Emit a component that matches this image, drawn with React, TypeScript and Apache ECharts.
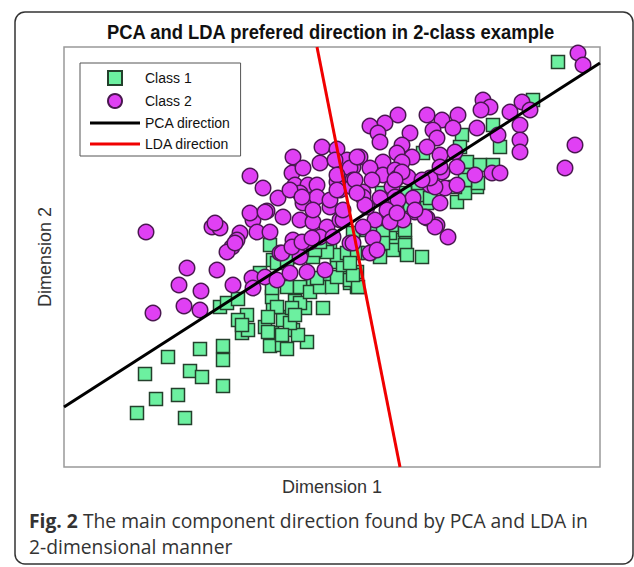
import React, { useEffect, useRef } from "react";
import * as echarts from "echarts";

const titleText = "PCA and LDA prefered direction in 2-class example";
const xName = "Dimension 1";
const yName = "Dimension 2";
const captionBold = "Fig. 2";
const captionLine1 = " The main component direction found by PCA and LDA in";
const captionLine2 = "2-dimensional manner";

const class1: number[][] = [
  [73, 54], [92, 68], [81, 93], [104, 110], [114, 72], [121, 49], [126, 96], [138, 90], [136, 118], [159, 121],
  [159, 107], [159, 81], [156, 160], [163, 164], [174, 168], [178, 134], [183, 152], [174, 147], [184, 137], [201, 140],
  [208, 134], [206, 121], [218, 122], [223, 118], [229, 137], [226, 150], [219, 147], [209, 160], [231, 166], [241, 159],
  [259, 159], [243, 125], [234, 132], [208, 170], [196, 194], [209, 207], [206, 222], [223, 180], [229, 210], [249, 210],
  [249, 184], [263, 184], [273, 205], [283, 199], [286, 184], [249, 220], [266, 220], [236, 164],
  [213, 160], [228, 159], [204, 150], [226, 144], [231, 152], [178, 142], [204, 135], [218, 132], [208, 179], [236, 180],
  [246, 175], [256, 180], [268, 180], [253, 189], [273, 190], [279, 202], [273, 212], [283, 214], [293, 214], [293, 195],
  [293, 180], [286, 187], [263, 215], [251, 217], [256, 225], [213, 204], [223, 207],
  [358, 210], [341, 224], [329, 227], [329, 217], [316, 210], [304, 214], [294, 180], [289, 192], [286, 204], [289, 234],
  [303, 237], [313, 239], [326, 234], [346, 262], [363, 264], [393, 265], [356, 272], [343, 272], [318, 274],
  [494, 405], [469, 367], [429, 342], [436, 320], [398, 332], [403, 305], [416, 302], [404, 292], [413, 280], [401, 274],
  [391, 280], [354, 284], [366, 269], [341, 274], [328, 242], [341, 222], [341, 237], [319, 235], [319, 224], [343, 212],
  [429, 302], [414, 284], [401, 287], [396, 320], [359, 314],
];

const class2: number[][] = [
  [82, 235], [89, 154], [123, 199], [115, 182], [137, 176], [120, 161], [136, 157], [153, 197], [169, 182], [148, 240],
  [156, 239], [186, 291], [199, 279], [214, 269], [229, 310], [258, 320], [273, 318], [256, 304], [228, 294], [239, 299],
  [231, 282], [244, 282], [253, 282], [236, 274], [239, 264], [253, 270], [266, 260], [276, 277], [283, 289], [289, 300],
  [283, 307], [203, 256], [219, 250], [236, 247], [249, 245], [263, 240], [276, 247], [189, 247], [186, 254], [193, 235],
  [206, 235], [176, 234], [173, 227], [168, 220], [163, 215], [229, 227], [246, 225], [256, 230], [269, 230], [216, 214],
  [236, 210],
  [419, 367], [426, 360], [417, 357], [394, 352], [363, 352], [378, 347], [389, 339], [413, 339], [334, 352], [321, 344],
  [306, 341], [314, 334], [316, 325], [346, 334], [369, 337], [373, 329], [363, 320], [338, 322], [333, 314], [348, 310],
  [376, 312], [391, 315], [296, 310], [286, 299], [319, 305], [338, 305], [306, 299], [319, 292], [331, 297], [308, 287],
  [333, 289], [344, 290], [393, 300], [378, 295], [366, 282], [381, 279], [393, 282], [411, 292], [428, 294], [434, 332],
  [299, 275], [328, 280], [289, 287],
  [514, 414], [519, 402], [446, 355], [458, 365], [466, 357], [456, 342], [456, 327], [456, 315], [511, 322], [501, 299],
  [436, 294], [384, 230], [373, 242], [371, 280], [366, 289], [376, 300], [358, 287], [338, 295], [331, 287], [331, 270],
  [349, 269], [351, 255], [363, 249], [339, 247], [334, 267], [316, 269], [323, 257], [311, 247], [303, 260], [299, 270],
  [288, 280], [273, 285], [266, 267], [279, 247], [299, 240], [309, 229], [306, 214], [286, 224],
  [371, 240], [361, 250], [351, 257], [326, 245], [333, 254], [313, 217], [289, 224], [301, 262], [376, 264],
  [188, 189], [201, 190], [213, 187], [226, 194], [243, 195], [261, 197], [218, 214], [228, 220], [238, 225], [248, 229],
  [171, 224], [189, 179],
  [226, 277], [238, 270], [249, 257], [271, 307], [273, 292], [273, 277], [279, 257], [293, 310], [291, 287], [293, 274],
  [201, 255], [151, 244],
];

const pcaLine: number[][] = [[0, 60], [536, 404]];
const ldaLine: number[][] = [[253, 420], [336, 0]];

const xRange = [0, 536];
const yRange = [0, 420];

export default function App() {
  const ref = useRef<HTMLDivElement>(null);
  useEffect(() => {
    document.body.style.margin = "0";
    const chart = echarts.init(ref.current!, null, { renderer: "svg" });
    const sans = "'Liberation Sans', Arial, sans-serif";
    const titleFont = "bold 20px 'Liberation Sans'";
    let titleScale = 0.85;
    const cv = document.createElement("canvas").getContext("2d");
    if (cv) {
      cv.font = titleFont;
      const w = cv.measureText(titleText).width;
      if (w > 0) titleScale = 449 / w;
    }
    const sq = "path://M0,0L14,0L14,14L0,14Z";
    const bar = "path://M0,0L50,0L50,3L0,3Z";
    chart.setOption({
      animation: false,
      backgroundColor: "#fff",
      grid: {
        left: 64,
        top: 47,
        right: 34,
        bottom: 100,
        show: true,
        borderColor: "#999",
        borderWidth: 1.5,
        backgroundColor: "#fff",
      },
      legend: {
        orient: "vertical",
        left: 80,
        top: 63,
        padding: [7, 10, 5, 10],
        itemGap: 7,
        itemWidth: 50,
        itemHeight: 14,
        borderColor: "#555",
        borderWidth: 1,
        backgroundColor: "#fff",
        textStyle: { fontFamily: sans, fontSize: 14, lineHeight: 14, color: "#111" },
        data: [
          { name: "Class 1", icon: sq },
          { name: "Class 2", icon: "circle" },
          { name: "PCA direction", icon: bar, itemStyle: { color: "#000", borderWidth: 0 } },
          { name: "LDA direction", icon: bar, itemStyle: { color: "#f00000", borderWidth: 0 } },
        ],
      },
      xAxis: {
        type: "value",
        min: xRange[0],
        max: xRange[1],
        axisLine: { show: false },
        axisTick: { show: false },
        axisLabel: { show: false },
        splitLine: { show: false },
        name: xName,
        nameLocation: "middle",
        nameGap: 11,
        nameTextStyle: { fontFamily: sans, fontSize: 18, color: "#333", verticalAlign: "top" },
      },
      yAxis: {
        type: "value",
        min: yRange[0],
        max: yRange[1],
        axisLine: { show: false },
        axisTick: { show: false },
        axisLabel: { show: false },
        splitLine: { show: false },
        name: yName,
        nameLocation: "middle",
        nameGap: 10,
        nameTextStyle: { fontFamily: sans, fontSize: 18, color: "#333" },
      },
      series: [
        {
          name: "Class 1",
          type: "scatter",
          symbol: "rect",
          symbolSize: 13,
          data: class1,
          itemStyle: { color: "#6cf0a0", borderColor: "#24402c", borderWidth: 1.5, opacity: 1 },
        },
        {
          name: "Class 2",
          type: "scatter",
          symbol: "circle",
          symbolSize: 15.5,
          data: class2,
          itemStyle: { color: "#e040f4", borderColor: "#4a1850", borderWidth: 1.5, opacity: 1 },
        },
        {
          name: "PCA direction",
          type: "line",
          data: pcaLine,
          symbol: "none",
          lineStyle: { color: "#000", width: 3 },
          itemStyle: { color: "#000" },
        },
        {
          name: "LDA direction",
          type: "line",
          data: ldaLine,
          symbol: "none",
          lineStyle: { color: "#f00000", width: 3 },
          itemStyle: { color: "#f00000" },
        },
      ],
      graphic: [
        {
          type: "rect",
          shape: { x: 15, y: 12, width: 618, height: 552, r: 10 },
          style: { fill: "none", stroke: "#333", lineWidth: 1.5 },
          z: -1,
          silent: true,
        },
        {
          type: "text",
          x: 107,
          y: 22,
          scaleX: titleScale,
          style: {
            text: titleText,
            font: titleFont,
            fill: "#111",
          },
        },
        {
          type: "text",
          x: 29,
          y: 511,
          style: {
            text: "{b|" + captionBold + "}" + captionLine1,
            fontFamily: "'Open Sans', sans-serif",
            fontSize: 19.3,
            fill: "#333",
            rich: {
              b: { fontFamily: "'Open Sans', sans-serif", fontSize: 19.3, fontWeight: "bold", fill: "#333" },
            },
          },
        },
        {
          type: "text",
          x: 29,
          y: 537,
          style: {
            text: captionLine2,
            fontFamily: "'Open Sans', sans-serif",
            fontSize: 19.3,
            fill: "#333",
          },
        },
      ],
    });
    return () => chart.dispose();
  }, []);
  return <div ref={ref} style={{ width: 634, height: 567 }} />;
}
